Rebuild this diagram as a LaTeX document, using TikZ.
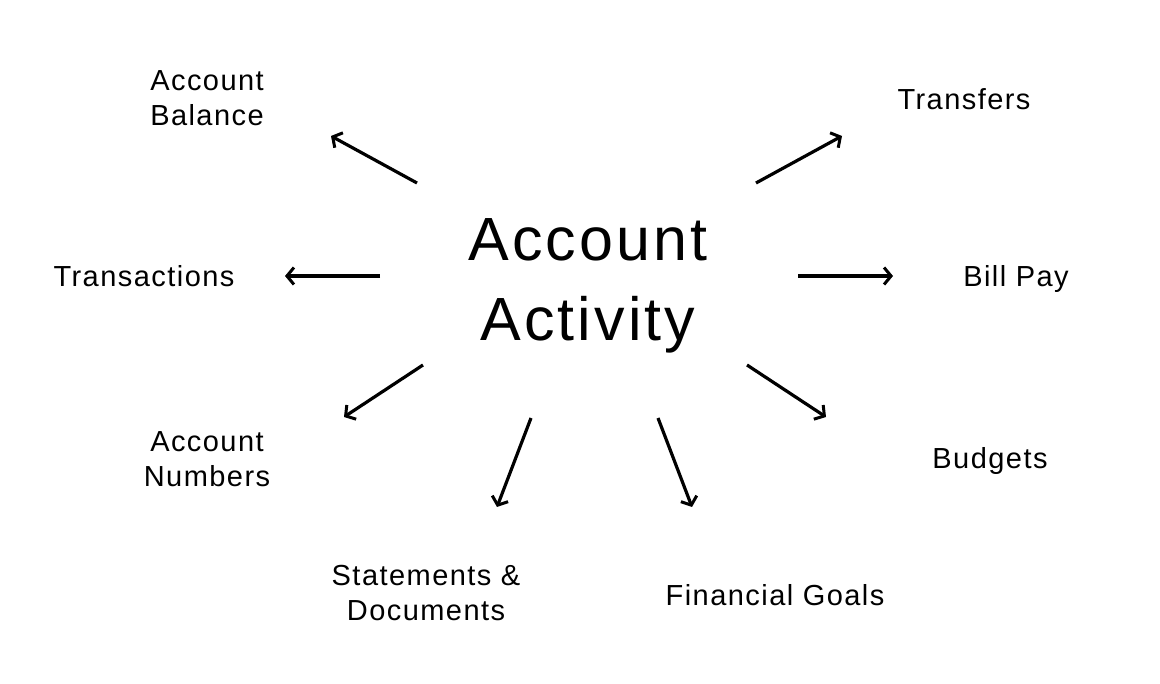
\documentclass[tikz,border=0pt]{standalone}
\usepackage{fontspec}
\setmainfont{Liberation Sans}[LetterSpace=5]
\usetikzlibrary{arrows.meta}
\tikzset{
  hub/.style={align=center, font=\fontsize{61}{80}\selectfont, inner sep=0pt},
  topic/.style={align=center, font=\fontsize{29}{35}\selectfont, inner sep=0pt},
  line/.style={-{Straight Barb[length=7pt,width=17pt,line width=3pt]}, line width=3.2pt}
}
\begin{document}
\begin{tikzpicture}[x=1pt,y=-1pt]
  \useasboundingbox (0,0) rectangle (1160,684);
  \node[hub] (activity) at (588,286) {Account\\Activity};
  \node[topic] (balance) at (207,98) {Account\\Balance};
  \node[topic] (transfers) at (964,99) {Transfers};
  \node[topic] (transactions) at (144,276) {Transactions};
  \node[topic] (billpay) at (1016,279) {Bill Pay};
  \node[topic] (numbers) at (207,459) {Account\\Numbers};
  \node[topic] (budgets) at (990,461) {Budgets};
  \node[topic] (statements) at (426,593) {Statements \&\\Documents};
  \node[topic] (goals) at (775,595) {Financial Goals};

  % arrow ends between hub and topics
  \coordinate (a1) at (417,183); \coordinate (b1) at (331,136);
  \coordinate (a2) at (756,183); \coordinate (b2) at (842,136);
  \coordinate (a3) at (380,276); \coordinate (b3) at (285,276);
  \coordinate (a4) at (798,276); \coordinate (b4) at (893,276);
  \coordinate (a5) at (423,365); \coordinate (b5) at (344,417);
  \coordinate (a6) at (747,365); \coordinate (b6) at (826,417);
  \coordinate (a7) at (531,418); \coordinate (b7) at (497,507);
  \coordinate (a8) at (658,418); \coordinate (b8) at (692,507);

  \foreach \i in {1,...,8}
    \draw[line] (a\i) -- (b\i);
\end{tikzpicture}
\end{document}
